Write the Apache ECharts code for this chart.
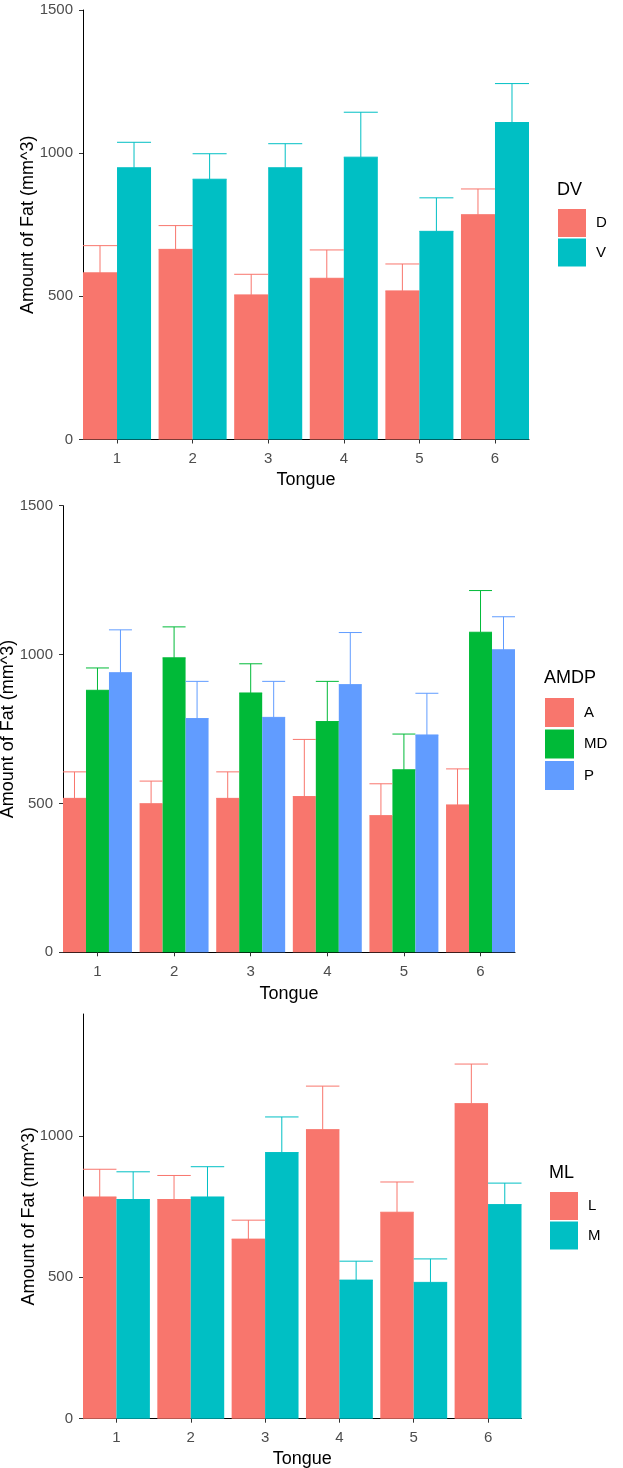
<!DOCTYPE html>
<html>
<head>
<meta charset="utf-8">
<script src="https://cdn.jsdelivr.net/npm/echarts@6/dist/echarts.min.js"></script>
<style>
  html, body { margin: 0; padding: 0; background: #fff; }
  #main { width: 623px; height: 1468px; }
</style>
</head>
<body>
<div id="main"></div>
<script>
var myChart = echarts.init(document.getElementById('main'));

// tongue numbers on the x axis
var tongues = [1, 2, 3, 4, 5, 6];

// panel 1 : DV
var dMean = [582, 664, 505, 563, 519, 785];
var dUpper = [677, 747, 577, 662, 613, 875];
var vMean = [949, 909, 949, 986, 727, 1107];
var vUpper = [1038, 998, 1033, 1143, 844, 1243];

// panel 2 : AMDP
var aMean = [517, 499, 517, 523, 459, 495];
var aUpper = [606, 575, 606, 715, 566, 616];
var mdMean = [880, 989, 871, 775, 613, 1075];
var mdUpper = [955, 1093, 969, 910, 733, 1215];
var pMean = [939, 785, 789, 899, 730, 1016];
var pUpper = [1083, 910, 910, 1074, 870, 1127];

// panel 3 : ML
var lMean = [784, 775, 635, 1022, 730, 1114];
var lUpper = [882, 860, 702, 1176, 837, 1254];
var mMean = [775, 784, 941, 490, 482, 757];
var mUpper = [873, 891, 1067, 557, 565, 833];

var yTicks = [0, 500, 1000, 1500];
var yTicks3 = [0, 500, 1000];

var RED = '#F8766D', TEAL = '#00BFC4', GREEN = '#00BA38', BLUE = '#619CFF';
var FONT = '"Liberation Sans", Arial, sans-serif';

function barSeries(name, g, means, color) {
    return {
        name: name,
        type: 'bar',
        xAxisIndex: g,
        yAxisIndex: g,
        barGap: '0%',
        barCategoryGap: '10%',
        itemStyle: { color: color },
        data: tongues.map(function (t, i) { return [t, means[i]]; })
    };
}

// error bar from the mean up to mean + se, drawn over its own bar slot
function errSeries(name, g, means, uppers, slot, nSlots, color) {
    return {
        name: name + '_se',
        type: 'custom',
        xAxisIndex: g,
        yAxisIndex: g,
        z: 3,
        encode: { x: 0, y: [1, 2] },
        data: tongues.map(function (t, i) { return [t, means[i], uppers[i]]; }),
        renderItem: function (params, api) {
            var w = 0.9 / nSlots;
            var x = api.value(0) - 0.45 + w * (slot + 0.5);
            var lo = api.coord([x, api.value(1)]);
            var hi = api.coord([x, api.value(2)]);
            var half = api.size([w, 0])[0] / 2;
            var st = { stroke: color, lineWidth: 1 };
            return {
                type: 'group',
                children: [
                    { type: 'line', shape: { x1: lo[0], y1: lo[1], x2: hi[0], y2: hi[1] }, style: st },
                    { type: 'line', shape: { x1: hi[0] - half, y1: hi[1], x2: hi[0] + half, y2: hi[1] }, style: st },
                    { type: 'line', shape: { x1: lo[0] - half, y1: lo[1], x2: lo[0] + half, y2: lo[1] }, style: st }
                ]
            };
        }
    };
}

function plain(v) { return String(v); }

function xAxisOf(g, gap) {
    return {
        gridIndex: g,
        type: 'value',
        min: 0.55,
        max: 6.45,
        name: 'Tongue',
        nameLocation: 'middle',
        nameGap: gap,
        nameMoveOverlap: false,
        nameTextStyle: { fontSize: 18, color: '#000', fontFamily: FONT },
        axisLine: { show: true, onZero: false, lineStyle: { color: '#000', width: 1 } },
        axisTick: { show: true, length: 4, customValues: tongues, lineStyle: { color: '#333' } },
        axisLabel: { customValues: tongues, fontSize: 15, color: '#4d4d4d', margin: 12, fontFamily: FONT, formatter: plain },
        splitLine: { show: false }
    };
}

function yAxisOf(g, max, ticks, gap) {
    return {
        gridIndex: g,
        type: 'value',
        min: 0,
        max: max,
        name: 'Amount of Fat (mm^3)',
        nameLocation: 'middle',
        nameRotate: 90,
        nameGap: gap,
        nameMoveOverlap: false,
        nameTextStyle: { fontSize: 18, color: '#000', fontFamily: FONT },
        axisLine: { show: true, onZero: false, lineStyle: { color: '#000', width: 1 } },
        axisTick: { show: true, length: 4, customValues: ticks, lineStyle: { color: '#333' } },
        axisLabel: { customValues: ticks, fontSize: 15, color: '#4d4d4d', margin: 10, fontFamily: FONT, formatter: plain },
        splitLine: { show: false }
    };
}

function legendOf(names, left, top, w, h, gap) {
    return {
        data: names,
        orient: 'vertical',
        left: left,
        top: top,
        padding: 0,
        icon: 'rect',
        itemWidth: w,
        itemHeight: h,
        itemGap: gap,
        selectedMode: false,
        textStyle: { fontSize: 15, color: '#000', fontFamily: FONT, padding: [0, 0, 0, 5] }
    };
}

var option = {
    animation: false,
    textStyle: { fontFamily: FONT },
    title: [
        { text: 'DV', left: 557, top: 181, padding: 0, textStyle: { fontSize: 18, fontWeight: 'normal', color: '#000', fontFamily: FONT } },
        { text: 'AMDP', left: 544, top: 669, padding: 0, textStyle: { fontSize: 18, fontWeight: 'normal', color: '#000', fontFamily: FONT } },
        { text: 'ML', left: 549, top: 1164, padding: 0, textStyle: { fontSize: 18, fontWeight: 'normal', color: '#000', fontFamily: FONT } }
    ],
    legend: [
        legendOf(['D', 'V'], 558, 209, 28, 28, 1.5),
        legendOf(['A', 'MD', 'P'], 545, 698, 29, 29, 2.5),
        legendOf(['L', 'M'], 550, 1192, 28, 28, 1.5)
    ],
    grid: [
        { left: 83, top: 10, width: 446, height: 429.5, outerBoundsMode: 'none' },
        { left: 63, top: 505.7, width: 452, height: 446.6, outerBoundsMode: 'none' },
        { left: 83, top: 1014, width: 438.5, height: 404.7, outerBoundsMode: 'none' }
    ],
    xAxis: [xAxisOf(0, 32), xAxisOf(1, 33), xAxisOf(2, 31)],
    yAxis: [yAxisOf(0, 1500, yTicks, 46), yAxisOf(1, 1500, yTicks, 46), yAxisOf(2, 1431, yTicks3, 45)],
    series: [
        barSeries('D', 0, dMean, RED),
        barSeries('V', 0, vMean, TEAL),
        errSeries('D', 0, dMean, dUpper, 0, 2, RED),
        errSeries('V', 0, vMean, vUpper, 1, 2, TEAL),

        barSeries('A', 1, aMean, RED),
        barSeries('MD', 1, mdMean, GREEN),
        barSeries('P', 1, pMean, BLUE),
        errSeries('A', 1, aMean, aUpper, 0, 3, RED),
        errSeries('MD', 1, mdMean, mdUpper, 1, 3, GREEN),
        errSeries('P', 1, pMean, pUpper, 2, 3, BLUE),

        barSeries('L', 2, lMean, RED),
        barSeries('M', 2, mMean, TEAL),
        errSeries('L', 2, lMean, lUpper, 0, 2, RED),
        errSeries('M', 2, mMean, mUpper, 1, 2, TEAL)
    ]
};

myChart.setOption(option);
</script>
</body>
</html>
